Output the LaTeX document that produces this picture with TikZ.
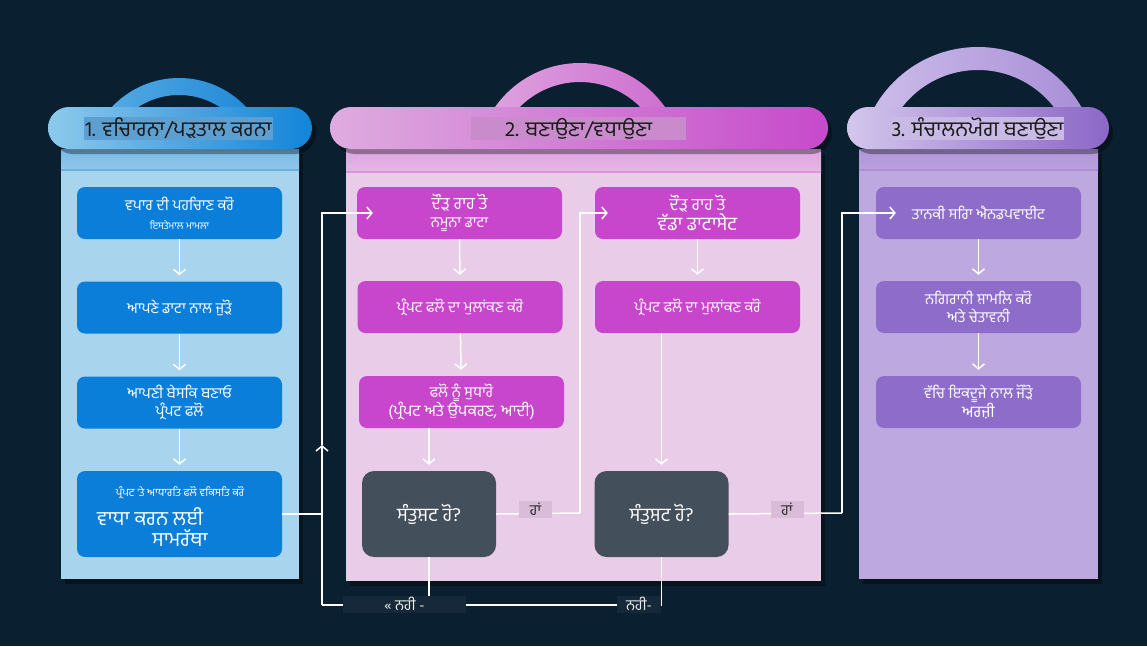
\documentclass[tikz,border=0pt]{standalone}
\usepackage{fontspec}
\newfontfamily\gurfont[Script=Gurmukhi]{Hind Jalandhar}
\usetikzlibrary{positioning,arrows.meta,shadows}

\definecolor{bgnavy}{HTML}{0A1F2F}
\definecolor{boxblue}{HTML}{0A7ED8}
\definecolor{boxpink}{HTML}{C846CC}
\definecolor{boxlav}{HTML}{8E6CCA}
\definecolor{decgrey}{HTML}{434F5B}
\definecolor{panblue}{HTML}{A9D4EE}
\definecolor{panpink}{HTML}{E8CCE8}
\definecolor{panlav}{HTML}{BEA8E0}
\definecolor{pill1l}{HTML}{8DC9EC}
\definecolor{pill1r}{HTML}{1284D8}
\definecolor{pill2l}{HTML}{DEACDF}
\definecolor{pill2r}{HTML}{C64ACB}
\definecolor{pill3l}{HTML}{D3C6EC}
\definecolor{pill3m}{HTML}{C3B1E4}
\definecolor{pill3r}{HTML}{8B67C7}
\definecolor{arch1l}{HTML}{5BAEE4}
\definecolor{arch1r}{HTML}{1B85D6}
\definecolor{arch2l}{HTML}{DFA6DF}
\definecolor{arch2r}{HTML}{CC6ACF}
\definecolor{arch3l}{HTML}{CDBEEA}
\definecolor{arch3r}{HTML}{A78CD6}
\definecolor{ttl1}{HTML}{5E9FD2}
\definecolor{ttl2}{HTML}{C98BCC}
\definecolor{ttl3}{HTML}{C9BAE5}
\definecolor{yesfill}{HTML}{D8BCD8}
\definecolor{nofill}{HTML}{15293A}

\tikzset{
  stagebox/.style={rounded corners=8pt, minimum width=205pt, minimum height=52pt,
    inner sep=0pt, align=center, text=white, font=\gurfont\fontsize{15}{18}\selectfont},
  blk1/.style={stagebox, fill=boxblue},
  blk2/.style={stagebox, fill=boxpink},
  blk3/.style={stagebox, fill=boxlav},
  decbox/.style={stagebox, fill=decgrey, rounded corners=12pt, minimum width=134pt,
    minimum height=86pt, font=\gurfont\fontsize{19}{22}\selectfont},
  txt/.style={inner sep=0pt, text=white, font=\gurfont\fontsize{15}{18}\selectfont},
  ttl/.style={inner xsep=1pt, inner ysep=0pt, minimum height=23pt, text=black!90,
    font=\gurfont\fontsize{21}{23}\selectfont},
  yeslbl/.style={fill=yesfill, text=black!85, inner sep=0pt,
    minimum width=33pt, minimum height=17pt, font=\gurfont\fontsize{15}{17}\selectfont},
  nolbl/.style={fill=nofill, text=white!85!gray, inner sep=0pt,
    minimum height=17pt, font=\gurfont\fontsize{15}{17}\selectfont},
  link/.style={draw=white, line width=1.5pt},
  flow/.style={link, -{Straight Barb[length=5pt,width=12pt]}, shorten >=6pt},
  shade1/.style={drop shadow={shadow xshift=4pt, shadow yshift=-5pt, opacity=0.35, fill=black}},
}

\begin{document}
\begin{tikzpicture}[x=1pt,y=-1pt]
\useasboundingbox[fill=bgnavy] (0,0) rectangle (1147,646);

% arches
\begin{scope}
  \clip (0,0) rectangle (1147,112);
  \shade[even odd rule, left color=arch1l, right color=arch1r]
    (179,170) circle (92pt) (179,170) circle (75pt);
  \shade[even odd rule, left color=arch2l, right color=arch2r]
    (580,167) circle (104pt) (580,167) circle (85pt);
  \shade[even odd rule, left color=arch3l, right color=arch3r]
    (978,166) circle (119pt) (978,166) circle (96pt);
\end{scope}

% panels
\fill[panblue, shade1] (61,149) rectangle (299,579);
\fill[panpink, shade1] (346,149) rectangle (821,581);
\fill[panlav, shade1] (859,149) rectangle (1098,579);
\shade[top color=panblue!70!boxblue, bottom color=panblue!85!boxblue] (61,149) rectangle (299,170);
\shade[top color=panpink!70!boxpink, bottom color=panpink!85!boxpink] (346,149) rectangle (821,172);
\shade[top color=panlav!70!boxlav, bottom color=panlav!88!boxlav] (859,149) rectangle (1098,170);
\draw[panblue!60!boxblue, line width=1.2pt] (61,170) -- (299,170);
\draw[panpink!60!boxpink, line width=1.2pt] (346,172) -- (821,172);
\draw[panlav!60!boxlav, line width=1.2pt] (859,170) -- (1098,170);

% title pills
\shade[rounded corners=21pt, left color=pill1l, right color=pill1r, shade1]
  (48,107) rectangle (312,149);
\shade[rounded corners=21pt, left color=pill2l, right color=pill2r, shade1]
  (330,107) rectangle (828,149);
\shade[rounded corners=21pt, left color=pill3l, middle color=pill3m,
  right color=pill3r, shade1] (847,107) rectangle (1109,149);

\node[ttl, fill=ttl1] (t1) at (178.5,128.5) {1. ਵਚਿਾਰਨਾ/ਪੜਤਾਲ ਕਰਨਾ};
\node[ttl, fill=ttl2, minimum width=215pt] (t2) at (578.5,128.5) {2. ਬਣਾਉਣਾ/ਵਧਾਉਣਾ};
\node[ttl, fill=ttl3] (t3) at (977.5,128.5) {3. ਸੰਚਾਲਨਯੋਗ ਬਣਾਉਣਾ};

% column 1
\node[blk1] (b11) at (179.5,213) {ਵਪਾਰ ਦੀ ਪਹਚਿਾਣ ਕਰੋ\\[1pt]{\fontsize{10}{12}\selectfont ਇਸਤੇਮਾਲ ਮਾਮਲਾ}};
\node[blk1] (b12) at (179.5,307.5) {ਆਪਣੇ ਡਾਟਾ ਨਾਲ ਜੁੜੋ};
\node[blk1] (b13) at (179.5,402.5) {ਆਪਣੀ ਬੇਸਕਿ ਬਣਾਓ\\ਪ੍ਰੰਪਟ ਫਲੋ};
\node[blk1, minimum height=86pt] (b14) at (179.5,514) {};
\node[txt, font=\gurfont\fontsize{11}{13}\selectfont] (b14a) at (180,493) {ਪ੍ਰੰਪਟ 'ਤੇ ਆਧਾਰਤਿ ਫਲੋ ਵਕਿਸਤਿ ਕਰੋ};
\node[txt, anchor=west, font=\gurfont\fontsize{20}{22}\selectfont] (b14b) at (97,517) {ਵਾਧਾ ਕਰਨ ਲਈ};
\node[txt, font=\gurfont\fontsize{20}{22}\selectfont] (b14c) at (180,538) {ਸਾਮਰੱਥਾ};

% column 2
\node[blk2] (b21) at (459.5,213) {{\fontsize{17}{19}\selectfont ਦੌੜ ਰਾਹ ਤੋ}\\ਨਮੂਨਾ ਡਾਟਾ};
\node[blk2] (b22) at (460,307) {ਪ੍ਰੰਪਟ ਫਲੋ ਦਾ ਮੁਲਾਂਕਣ ਕਰੋ};
\node[blk2] (b23) at (461.5,402) {ਫਲੋ ਨੂੰ ਸੁਧਾਰੋ\\{\fontsize{16}{18}\selectfont (ਪ੍ਰੰਪਟ ਅਤੇ ਉਪਕਰਣ, ਆਦੀ)}};
\node[decbox] (d1) at (429,514) {ਸੰਤੁਸ਼ਟ ਹੋ?};
\node[blk2] (b24) at (697.5,213) {{\fontsize{17}{19}\selectfont ਦੌੜ ਰਾਹ ਤੋ}\\{\fontsize{19}{19}\selectfont ਵੱਡਾ ਡਾਟਾਸੇਟ}};
\node[blk2] (b25) at (697.5,307) {ਪ੍ਰੰਪਟ ਫਲੋ ਦਾ ਮੁਲਾਂਕਣ ਕਰੋ};
\node[decbox] (d2) at (661.5,514) {ਸੰਤੁਸ਼ਟ ਹੋ?};

% column 3
\node[blk3] (b31) at (978.5,213) {ਤਾਨਕੀ ਸਰਿਾ ਐਨਡਪਵਾਈਟ};
\node[blk3] (b32) at (978.5,307) {ਨਗਿਰਾਨੀ ਸ਼ਾਮਲਿ ਕਰੋ\\ਅਤੇ ਚੇਤਾਵਨੀ};
\node[blk3] (b33) at (978.5,402) {ਵੱਚਿ ਇਕਦੂਜੇ ਨਾਲ ਜੋੜੋ\\{\fontsize{16}{18}\selectfont ਅਰਜ਼ੀ}};

% connectors
\coordinate (loopA) at (322,605);
\coordinate (upmark) at (322,445);
\coordinate (yes1) at (580,513);
\coordinate (yes2) at (842,513);

\draw[flow] (b11) -- (b12);
\draw[flow] (b12) -- (b13);
\draw[flow] (b13) -- (b14);
\draw[flow] (b21) -- (b22);
\draw[flow] (b22) -- (b23);
\draw[flow] (b23.south -| d1.north) -- (d1.north);
\draw[flow] (b24) -- (b25);
\draw[flow] (b25.south -| d2.north) -- (d2.north);
\draw[flow] (b31) -- (b32);
\draw[flow] (b32) -- (b33);

\draw[link] (b14.east) -- (b14.east -| loopA);
\draw[link] (d1.south) |- (loopA);
\draw[link] (d2.south) |- (d1.south |- loopA);
\draw[flow, shorten >=0pt] (loopA) -- (upmark);
\draw[flow, shorten >=-16pt] (upmark) |- (b21);
\draw[link] (d1.east) -- (yes1);
\draw[flow, shorten >=-13pt] (yes1) |- (b24);
\draw[link] (d2.east) -- (yes2);
\draw[flow, shorten >=-20pt] (yes2) |- (b31);

\node[yeslbl] (y1) at (535.5,509.5) {ਹਾਂ};
\node[yeslbl] (y2) at (787,509.5) {ਹਾਂ};
\node[nolbl, minimum width=123pt] (n1) at (404.5,604) {« ਨਹੀ -};
\node[nolbl, minimum width=44pt] (n2) at (639,604) {ਨਹੀ-};
\end{tikzpicture}
\end{document}
